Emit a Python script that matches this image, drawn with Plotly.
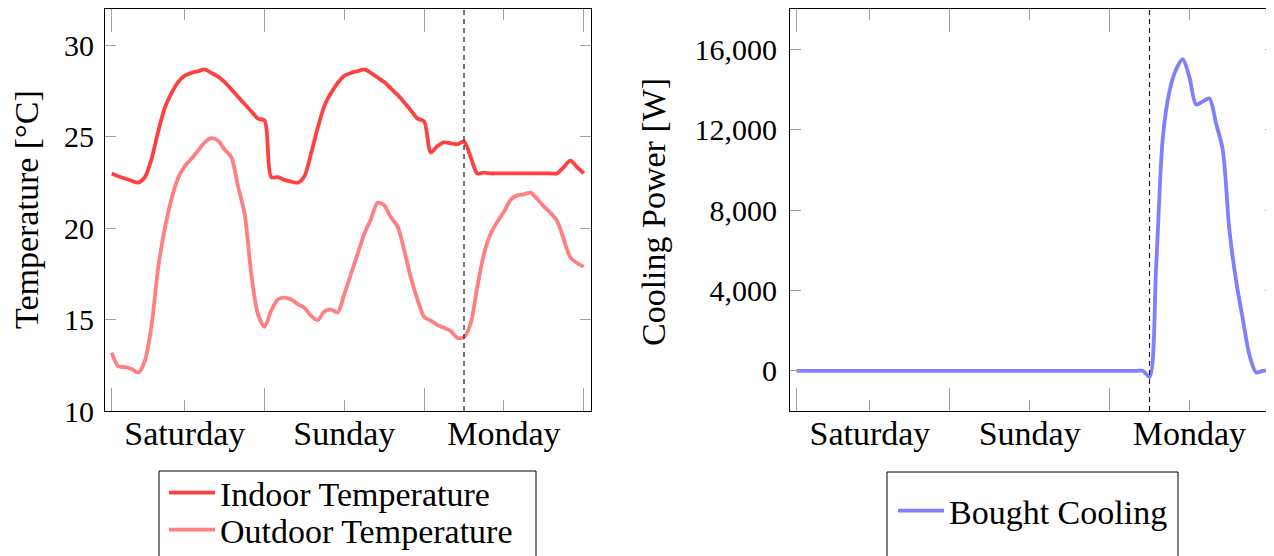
import plotly.graph_objects as go

# ---------------- data ----------------
HOURS = list(range(1, 73))

INDOOR = [23.0, 22.85, 22.72, 22.6, 22.5, 22.8, 23.8, 25.3, 26.6, 27.4,
          28.0, 28.35, 28.5, 28.6, 28.7, 28.5, 28.3, 28.0, 27.6, 27.2,
          26.8, 26.4, 26.0, 25.9, 22.8, 22.8, 22.65, 22.55, 22.5, 22.85,
          24.1, 25.5, 26.7, 27.4, 27.95, 28.35, 28.5, 28.6, 28.7, 28.5,
          28.25, 28.0, 27.65, 27.3, 26.9, 26.45, 26.0, 25.85, 24.15, 24.5,
          24.7, 24.65, 24.6, 24.75, 23.9, 23.0, 23.05, 23.0, 23.0, 23.0,
          23.0, 23.0, 23.0, 23.0, 23.0, 23.0, 23.0, 23.0, 23.35, 23.7,
          23.35, 23.0]

OUTDOOR = [13.2, 12.45, 12.4, 12.3, 12.1, 12.75, 14.7, 17.85, 20.0, 21.6,
           22.75, 23.4, 23.8, 24.25, 24.7, 24.93, 24.8, 24.3, 23.9, 22.3,
           20.8, 17.5, 15.3, 14.6, 15.5, 16.1, 16.2, 16.1, 15.85, 15.65,
           15.2, 14.97, 15.45, 15.55, 15.4, 16.4, 17.5, 18.6, 19.7, 20.5,
           21.4, 21.25, 20.6, 20.1, 18.8, 17.3, 16.1, 15.15, 14.95, 14.7,
           14.55, 14.38, 14.0, 14.05, 14.8, 16.8, 18.6, 19.7, 20.35, 20.9,
           21.55, 21.8, 21.86, 21.95, 21.6, 21.2, 20.85, 20.4, 19.4, 18.4,
           18.1, 17.9]

COOLING = [0] * 53 + [-300, 5200, 11600, 13900, 15000, 15500, 14600, 13250,
                      13400, 13550, 12300, 11000, 7000, 4500, 2600, 800, -80,
                      0, 0]

DASH_HOUR = 54
DAY_TICKS = [12, 36, 60]
DAY_LABELS = ["Saturday", "Sunday", "Monday"]
BOUNDARY_TICKS = [1, 24, 48, 72]
TEMP_TICKS = [10, 15, 20, 25, 30]
POWER_TICKS = [0, 4000, 8000, 12000, 16000]

# ---------------- layout helpers ----------------
W, H = 1274, 556
OFF = 8  # page body margin: the figure is drawn 8px right/down of the window corner
SERIF = "Liberation Serif, Times New Roman, serif"
TICKGRAY = "rgb(160,160,160)"
TXT = 34   # word font size
NUM = 30   # numeric tick label size


def px_x(p):
    return (p - OFF) / W


def px_y(p):
    return 1 - (p - OFF) / H


LW = 3.8
fig = go.Figure()

fig.add_trace(go.Scatter(x=HOURS, y=INDOOR, mode="lines", name="Indoor Temperature",
                         line=dict(color="rgb(255,64,64)", width=LW, shape="spline", smoothing=0.8),
                         xaxis="x", yaxis="y", legend="legend"))
fig.add_trace(go.Scatter(x=HOURS, y=OUTDOOR, mode="lines", name="Outdoor Temperature",
                         line=dict(color="rgb(255,128,128)", width=LW, shape="spline", smoothing=0.8),
                         xaxis="x", yaxis="y", legend="legend3"))
fig.add_trace(go.Scatter(x=HOURS, y=COOLING, mode="lines", name="Bought Cooling",
                         line=dict(color="rgb(128,128,255)", width=LW, shape="spline", smoothing=0.8),
                         xaxis="x2", yaxis="y2", legend="legend2"))

ydom = [px_y(411), px_y(9)]

xaxis_common = dict(
    tickmode="array", tickvals=DAY_TICKS, ticktext=DAY_LABELS,
    ticks="inside", ticklen=11, tickwidth=1, tickcolor=TICKGRAY,
    minor=dict(tickmode="array", tickvals=BOUNDARY_TICKS, ticks="inside",
               ticklen=23, tickwidth=1, tickcolor=TICKGRAY, showgrid=False),
    showline=True, linecolor="black", linewidth=1, mirror="allticks",
    showgrid=False, zeroline=False, automargin=False,
    tickfont=dict(family=SERIF, size=TXT, color="black"),
    ticklabelstandoff=-8,
)

yaxis_common = dict(
    tickmode="array", ticks="inside", ticklen=11, tickwidth=1, tickcolor=TICKGRAY,
    showline=True, linecolor="black", linewidth=1, mirror="allticks",
    showgrid=False, zeroline=False, automargin=False,
    tickfont=dict(family=SERIF, size=NUM, color="black"),
)

legend_common = dict(xanchor="left", yanchor="middle", bgcolor="rgba(0,0,0,0)",
                     borderwidth=0, itemwidth=46,
                     font=dict(family=SERIF, size=TXT, color="black"))

fig.update_layout(
    width=W, height=H,
    margin=dict(l=0, r=0, t=0, b=0, pad=0, autoexpand=False),
    paper_bgcolor="white", plot_bgcolor="white",
    xaxis=dict(domain=[px_x(105), px_x(591)], range=[0, 73.1], anchor="y", **xaxis_common),
    yaxis=dict(domain=ydom, range=[10, 32], anchor="x", tickvals=TEMP_TICKS,
               ticklabelstandoff=4, **yaxis_common),
    xaxis2=dict(domain=[px_x(790), px_x(1276)], range=[0, 73], anchor="y2", **xaxis_common),
    yaxis2=dict(domain=ydom, range=[-2000, 18000], anchor="x2", tickvals=POWER_TICKS,
                tickformat=",", ticklabelstandoff=6, **yaxis_common),
    legend=dict(x=px_x(164), y=px_y(493), **legend_common),
    legend3=dict(x=px_x(164), y=px_y(530), **legend_common),
    legend2=dict(x=px_x(893), y=px_y(511), **legend_common),
    showlegend=True,
)

# dashed marker lines at the event hour
for xr, yr in (("x", "y domain"), ("x2", "y2 domain")):
    fig.add_shape(type="line", xref=xr, yref=yr, x0=DASH_HOUR, x1=DASH_HOUR, y0=0, y1=1,
                  line=dict(color="rgb(30,30,30)", width=1.2, dash="5px,4px"))

# legend frames (extend below the visible area, as in the reference)
fig.add_shape(type="rect", xref="paper", yref="paper",
              x0=px_x(159), x1=px_x(536), y0=px_y(600), y1=px_y(471),
              line=dict(color="black", width=1), fillcolor="rgba(0,0,0,0)", layer="below")
fig.add_shape(type="rect", xref="paper", yref="paper",
              x0=px_x(887), x1=px_x(1178), y0=px_y(600), y1=px_y(472),
              line=dict(color="black", width=1), fillcolor="rgba(0,0,0,0)", layer="below")

# axis titles
fig.add_annotation(text="Temperature [°C]", xref="paper", yref="paper",
                   x=px_x(27), y=px_y(210), xanchor="center", yanchor="middle",
                   textangle=-90, showarrow=False,
                   font=dict(family=SERIF, size=TXT, color="black"))
fig.add_annotation(text="Cooling Power [W]", xref="paper", yref="paper",
                   x=px_x(654), y=px_y(212), xanchor="center", yanchor="middle",
                   textangle=-90, showarrow=False,
                   font=dict(family=SERIF, size=TXT, color="black"))

fig.write_html("out.html")
